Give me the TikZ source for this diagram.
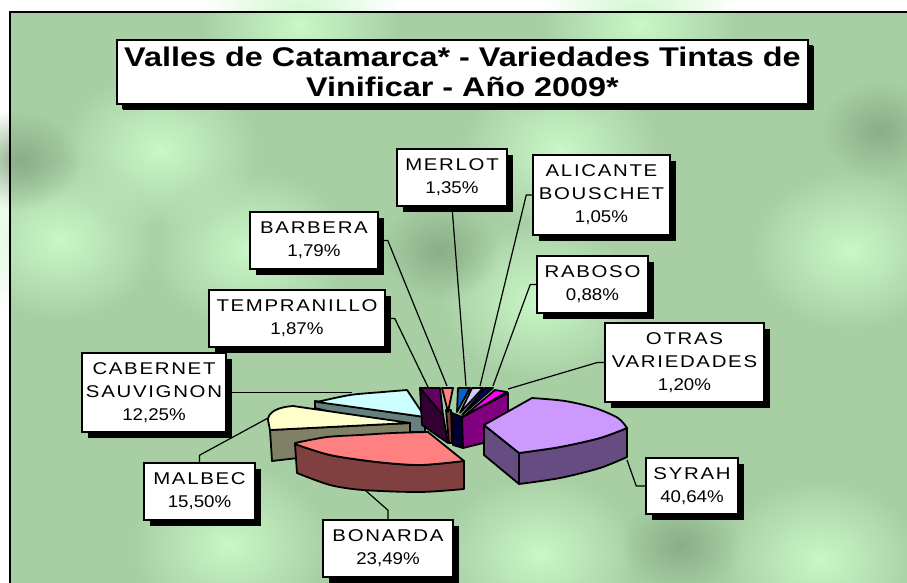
\documentclass[tikz,border=0pt]{standalone}
\usepackage{fontspec}
\setmainfont{Liberation Sans}
\newfontfamily\namefont[FakeStretch=1.2, LetterSpace=10]{Liberation Sans}
\newfontfamily\pctfont[FakeStretch=1.1]{Liberation Sans}
\newfontfamily\titlefont[FakeStretch=1.2]{Liberation Sans}
\usetikzlibrary{shadows,fadings}
\tikzfading[name=glow, inner color=transparent!0, outer color=transparent!100]

\definecolor{bggreen}{RGB}{168,207,164}
\definecolor{bglite}{RGB}{202,248,200}
\definecolor{bgdark}{RGB}{138,174,136}
\definecolor{syrtop}{HTML}{CC99FF}
\definecolor{syrside}{HTML}{664C80}
\definecolor{bontop}{HTML}{FF8080}
\definecolor{bonside}{HTML}{804040}
\definecolor{maltop}{HTML}{FFFFCC}
\definecolor{malside}{HTML}{808066}
\definecolor{cabtop}{HTML}{CCFFFF}
\definecolor{cabside}{HTML}{668080}
\definecolor{temtop}{HTML}{660066}
\definecolor{temside}{HTML}{330033}
\definecolor{mertop}{HTML}{0066CC}
\definecolor{alitop}{HTML}{CCCCFF}
\definecolor{rabtop}{HTML}{000080}
\definecolor{otrtop}{HTML}{FF00FF}
\definecolor{otrside}{HTML}{800080}

\tikzset{
  lbl/.style={draw=black, line width=1.5pt, fill=white, align=center, inner sep=0pt,
    font=\fontsize{17}{23}\selectfont,
    drop shadow={shadow xshift=6pt, shadow yshift=-6pt, fill=black, opacity=1}},
  lead/.style={line width=1.2pt},
  slice/.style={draw=black, line width=1.8pt, line join=round},
}

\begin{document}
\begin{tikzpicture}[x=1pt,y=-1pt]

        % background and frame
        \clip (0,0) rectangle (907,583);
        \fill[white] (0,0) rectangle (907,583);
        \fill[bggreen] (10,12) rectangle (920,600);
        \foreach \cx/\cy in {60/240, 250/250, 540/300, 850/250, 230/545, 540/555,
                             160/150, 560/150, 820/560, 300/25, 640/25}
            \fill[bglite, path fading=glow] (\cx,\cy) ellipse (100 and 80);
        \foreach \cx/\cy in {20/160, 440/250, 680/545, 880/130}
            \fill[bgdark, path fading=glow] (\cx,\cy) ellipse (60 and 50);
        \draw[line width=2.5pt] (10,600) -- (10,12) -- (920,12);

        % title
        \node[lbl, font=\titlefont\bfseries\fontsize{27}{30}\selectfont, minimum width=691pt, minimum height=64pt,
              drop shadow={shadow xshift=5pt, shadow yshift=-5pt, fill=black, opacity=1}]
              (title) at (462.5,72) {Valles de Catamarca* - Variedades Tintas de\\Vinificar - Año 2009*};

        % cabernet sauvignon
        \filldraw[slice, fill=cabside] (315,401) -- (425,417) -- (425,432) -- (412,432) -- (315,408) -- cycle;
        \filldraw[slice, fill=cabtop] (317,402) -- plot[smooth] coordinates {(317,402) (350,395) (383,392) (407,390)} -- (425,417) -- cycle;

        % malbec
        \filldraw[slice, fill=malside] (270,430) -- (410,423) -- (410,445) -- (272,461) -- cycle;
        \filldraw[slice, fill=maltop] (410,423) -- (293,406) .. controls (278,407) and (268,412) .. (268,420) -- (270,430) -- cycle;

        % bonarda
        \filldraw[slice, fill=bonside] plot[smooth] coordinates {(295,444) (330,455) (377,462) (420,465) (464,461)}
            -- (464,489) -- plot[smooth] coordinates {(464,489) (420,492) (363,490) (330,485) (297,473)} -- cycle;
        \filldraw[slice, fill=bontop] plot[smooth] coordinates {(295,443) (327,437) (360,435) (393,433) (428,432)}
            -- (464,461) -- plot[smooth] coordinates {(464,461) (420,465) (377,462) (330,455) (295,444)} -- cycle;

        % small slices
        \filldraw[slice, fill=temside] (420,388) -- (443,415) -- (448,443) -- (422,425) -- cycle;
        \filldraw[slice, fill=temtop] (420,388) -- (440,388) -- (443,415) -- cycle;
        \filldraw[slice, fill=bonside] (446,410) -- (451,410) -- (452,443) -- (449,443) -- cycle;
        \filldraw[slice, fill=bontop] (442,388) -- (453,388) -- (448,412) -- cycle;
        \filldraw[slice, fill=rabtop!40!black] (452,413) -- (462,417) -- (463,448) -- (453,445) -- cycle;
        \filldraw[slice, fill=otrside] (462,417) -- (508,393) -- (508,437) -- (463,448) -- cycle;
        \filldraw[slice, fill=mertop] (458,388) -- (470,388) -- (457,412) -- cycle;
        \filldraw[slice, fill=alitop] (472,388) -- (483,388) -- (460,413) -- cycle;
        \filldraw[slice, fill=rabtop] (485,388) -- (493,388) -- (462,415) -- cycle;
        \filldraw[slice, fill=otrtop] (495,390) -- (507,392) -- (463,417) -- cycle;

        % syrah
        \filldraw[slice, fill=syrside] (484,425) -- (519,453) -- (519,484) -- (484,455) -- cycle;
        \filldraw[slice, fill=syrside] plot[smooth] coordinates {(519,453) (560,447) (600,438) (627,428)}
            -- (627,457) -- plot[smooth] coordinates {(627,457) (600,468) (560,478) (519,484)} -- cycle;
        \filldraw[slice, fill=syrtop] (519,453) -- (484,425) -- (532,398)
            -- plot[smooth] coordinates {(532,398) (565,401) (595,408) (618,418) (627,428)}
            -- plot[smooth] coordinates {(627,428) (600,438) (560,447) (519,453)} -- cycle;

        % leader ends on the pie
        \coordinate (pTem) at (428,387);
        \coordinate (pBar) at (447,386);
        \coordinate (pMer) at (466,386);
        \coordinate (pAli) at (480,386);
        \coordinate (pRab) at (493,386);
        \coordinate (pOtr) at (508,389);
        \coordinate (pSyr) at (627,460);
        \coordinate (pBon) at (365,490);
        \coordinate (pMal) at (268,418);
        \coordinate (pCab) at (352,392.5);

        % labels
        \node[lbl, minimum width=110pt, minimum height=57pt] (merlot) at (452,177.5) {{\namefont MERLOT}\\{\pctfont 1,35\%}};
        \node[lbl, minimum width=137pt, minimum height=80pt] (alicante) at (601.5,195) {{\namefont ALICANTE}\\{\namefont BOUSCHET}\\{\pctfont 1,05\%}};
        \node[lbl, minimum width=111pt, minimum height=57pt] (raboso) at (592.5,284.5) {{\namefont RABOSO}\\{\pctfont 0,88\%}};
        \node[lbl, minimum width=159pt, minimum height=79pt] (otras) at (684.5,362.5) {{\namefont OTRAS}\\{\namefont VARIEDADES}\\{\pctfont 1,20\%}};
        \node[lbl, minimum width=92pt, minimum height=56pt] (syrah) at (692,486) {{\namefont SYRAH}\\{\pctfont 40,64\%}};
        \node[lbl, minimum width=130pt, minimum height=57pt] (bonarda) at (388,548.5) {{\namefont BONARDA}\\{\pctfont 23,49\%}};
        \node[lbl, minimum width=111pt, minimum height=57pt] (malbec) at (199.5,491.5) {{\namefont MALBEC}\\{\pctfont 15,50\%}};
        \node[lbl, minimum width=144pt, minimum height=79pt] (cabernet) at (154,392.5) {{\namefont CABERNET}\\{\namefont SAUVIGNON}\\{\pctfont 12,25\%}};
        \node[lbl, minimum width=176pt, minimum height=57pt] (tempranillo) at (297,318.5) {{\namefont TEMPRANILLO}\\{\pctfont 1,87\%}};
        \node[lbl, minimum width=128pt, minimum height=57pt] (barbera) at (314,240.5) {{\namefont BARBERA}\\{\pctfont 1,79\%}};

        % leader lines
        \draw[lead] (merlot.south) -- (pMer);
        \draw[lead] (alicante.west) -- ++(-6,0) -- (pAli);
        \draw[lead] (raboso.west) -- ++(-6,0) -- (pRab);
        \draw[lead] (otras.west) -- ++(-7,0) -- (pOtr);
        \draw[lead] (syrah.west) -- ++(-9,0) -- (pSyr);
        \draw[lead] (bonarda.north) -- ++(0,-9) -- (pBon);
        \draw[lead] (malbec.north) -- ++(0,-7) -- (pMal);
        \draw[lead] (cabernet.east) -- (pCab);
        \draw[lead] (tempranillo.east) -- ++(9,0) -- (pTem);
        \draw[lead] (barbera.east) -- ++(9,0) -- (pBar);
    \end{tikzpicture}
\end{document}
